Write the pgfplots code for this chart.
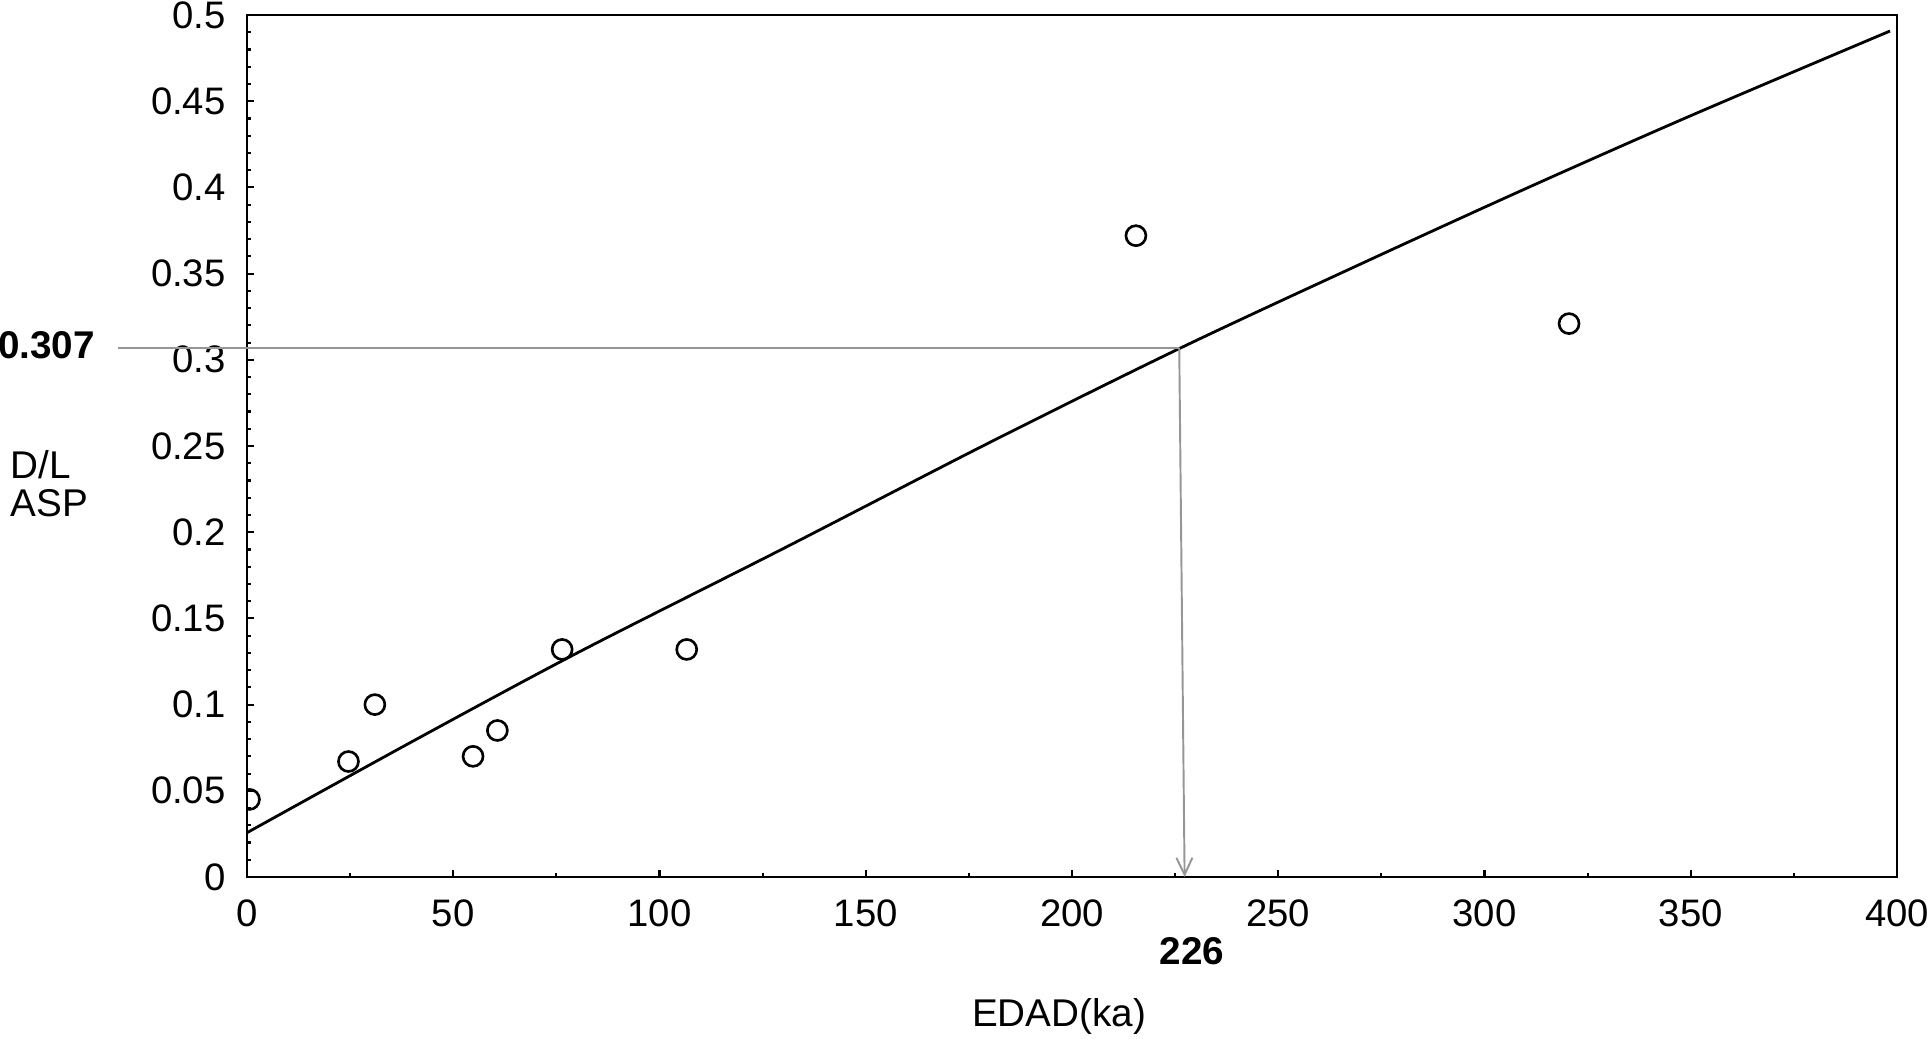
\documentclass[border=0pt]{standalone}
\usepackage{fontspec}
\setmainfont{Liberation Sans}
\usepackage{pgfplots}
\pgfplotsset{compat=1.18}
\usetikzlibrary{arrows.meta}
\definecolor{guide}{RGB}{150,150,150}
\begin{document}
\begin{tikzpicture}
\useasboundingbox (-24.7mm,-16.1mm) rectangle (168mm,87.7mm);
\begin{axis}[
  scale only axis, width=165mm, height=86.2mm,
  xmin=0, xmax=400, ymin=0, ymax=0.5,
  xtick={0,50,100,150,200,250,300,350,400},
  ytick={0,0.05,0.1,0.15,0.2,0.25,0.3,0.35,0.4,0.45,0.5},
  yticklabels={0,0.05,0.1,0.15,0.2,0.25,0.3,0.35,0.4,0.45,0.5},
  xticklabels={0,50,100,150,200,250,300,350,400},
  minor x tick num=1, minor y tick num=4,
  tick align=inside, tick pos=left,
  major tick length=0.75mm, minor tick length=0.45mm,
  axis line style={line width=0.7pt},
  every tick/.style={black, line width=0.6pt},
  ticklabel style={font=\fontsize{10.9}{13}\selectfont},
  /pgf/number format/assume math mode=true,
  yticklabel style={xshift=-0.9mm},
  xticklabel style={yshift=-1.0mm},
  clip mode=individual, clip marker paths=true,
]
\addplot[black, line width=0.8pt, smooth] coordinates {
(0,0.0257) (40,0.0785) (80,0.1299) (130,0.1905) (180,0.2520)
(226,0.3065) (270,0.3556) (310,0.3993) (350,0.4416) (398.3,0.4907)};
\addplot[only marks, mark=o, mark size=1mm, mark options={line width=0.75pt, black}] coordinates {
(0.6,0.045) (24.6,0.067) (31,0.100) (54.8,0.070) (60.7,0.085)
(76.4,0.132) (106.6,0.132) (215.5,0.372) (320.5,0.321)};
\coordinate (P) at (axis cs:226,0.307);
\coordinate (B) at (axis cs:227.3,0);
\end{axis}
\draw[guide, line width=0.55pt] (-12.9mm,0 |- P) -- (P);
\draw[guide, line width=0.55pt, -{Straight Barb[length=1.7mm,width=1.6mm]}] (P) -- (B);
\node[font=\bfseries\fontsize{11}{13}\selectfont, inner sep=0pt] at (-20.05mm,53.2mm) {0.307};
\node[font=\bfseries\fontsize{11}{13}\selectfont, inner sep=0pt] at (94.5mm,-7.4mm) {226};
\node[font=\fontsize{11}{13}\selectfont, inner sep=0pt, anchor=west] at (-23.7mm,41.2mm) {D/L};
\node[font=\fontsize{11}{13}\selectfont, inner sep=0pt, anchor=west] at (-23.7mm,37.4mm) {ASP};
\node[font=\fontsize{11}{13}\selectfont, inner sep=0pt] at (81.2mm,-13.9mm) {EDAD(ka)};
\end{tikzpicture}
\end{document}
